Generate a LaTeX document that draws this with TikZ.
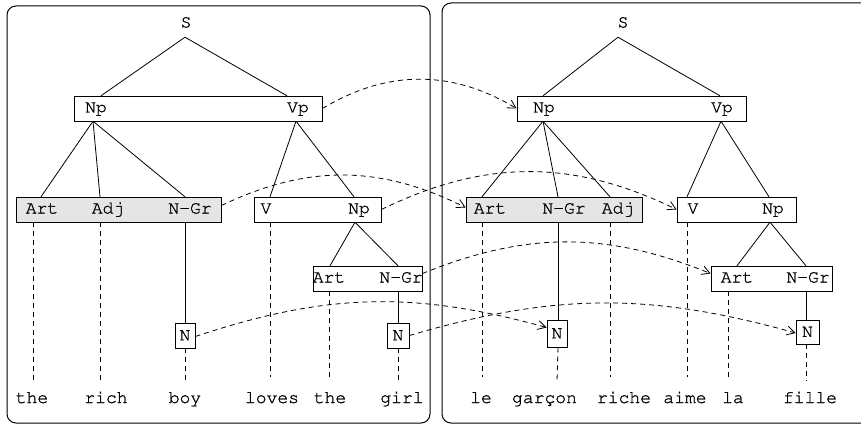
\documentclass[tikz,border=0pt]{standalone}
\usepackage[T1]{fontenc}
\usepackage{courier}
\usetikzlibrary{arrows.meta}
\newcommand{\heavytext}{\special{pdf:literal direct 2 Tr 0.2 w}}
\begin{document}
\begin{tikzpicture}[x=1pt,y=-1pt,
  every node/.style={font=\heavytext\ttfamily\fontsize{18}{20}\selectfont},
  lab/.style={inner sep=0pt, text height=12pt, text depth=4pt, minimum height=25pt},
  box/.style={draw, line width=0.9pt, minimum height=25pt, inner sep=0pt},
  gbox/.style={box, fill=black!10},
  word/.style={inner sep=0pt, text height=12pt, text depth=4pt, anchor=base},
  tl/.style={line width=0.8pt},
  dl/.style={line width=0.8pt, dash pattern=on 5pt off 4pt},
  arr/.style={dl, -{Straight Barb[length=8pt,width=9pt]}},
  frame/.style={line width=1pt, rounded corners=9pt},
]
\useasboundingbox (0,0) rectangle (861,425);
\begin{scope}
\clip (0,0) rectangle (861,425);
\draw[frame] (7,6) rectangle (430,423);
\draw[frame] (442,3) rectangle (900,423);
\end{scope}

% ---------- left tree ----------
\node[box, minimum width=248pt] (lB1) at (198,108.5) {};
\node[gbox, minimum width=205pt] (lB2) at (118.5,209.5) {};
\node[box, minimum width=127pt] (lB3) at (317.5,209.5) {};
\node[box, minimum width=109pt] (lB4) at (367.5,278.5) {};
\node[box, minimum width=20pt] (lN1) at (185,335.5) {N};
\node[box, minimum width=22pt] (lN2) at (398,335.5) {N};

\node[lab, minimum height=27pt] (lS) at (186,23.5) {S};
\node[lab] (lNp) at (96,108.5) {Np};
\node[lab] (lVp) at (298,108.5) {Vp};
\node[lab] (lArt) at (42,209.5) {Art};
\node[lab] (lAdj) at (108,209.5) {Adj};
\node[lab] (lNGr) at (190,209.5) {N-Gr};
\node[lab] (lV) at (266,209.5) {V};
\node[lab] (lNp2) at (359,209.5) {Np};
\node[lab] (lArt3) at (329,278.5) {Art};
\node[lab] (lNGr3) at (401,278.5) {N-Gr};

\node[word] (wThe) at (32,403) {the};
\node[word] (wRich) at (106,403) {rich};
\node[word] (wBoy) at (185,403) {boy};
\node[word] (wLoves) at (272,403) {loves};
\node[word] (wThe2) at (330,403) {the};
\node[word] (wGirl) at (402,403) {girl};

\draw[tl] ([xshift=-1pt]lS.south) -- ([xshift=5pt]lNp.north);
\draw[tl] ([xshift=-1pt]lS.south) -- ([xshift=-11pt]lVp.north);
\draw[tl] ([xshift=-3pt]lNp.south) -- ([xshift=-1pt]lArt.north);
\draw[tl] ([xshift=-3pt]lNp.south) -- ([xshift=-8pt]lAdj.north);
\draw[tl] ([xshift=-3pt]lNp.south) -- ([xshift=-5pt]lNGr.north);
\draw[tl] ([xshift=-2pt]lVp.south) -- ([xshift=4pt]lV.north);
\draw[tl] ([xshift=-2pt]lVp.south) -- ([xshift=-5pt]lNp2.north);
\draw[tl] ([xshift=-4pt]lNp2.south) -- ([xshift=1pt]lArt3.north);
\draw[tl] ([xshift=-4pt]lNp2.south) -- ([xshift=-3pt]lNGr3.north);
\draw[tl] ([xshift=-5pt]lNGr.south) -- (lN1.north);
\draw[tl] ([xshift=-3pt]lNGr3.south) -- (lN2.north);

\draw[dl] ([xshift=-9pt]lArt.south) -- ([xshift=1pt,yshift=10pt]wThe.north);
\draw[dl] ([xshift=-8pt]lAdj.south) -- ([xshift=-6pt,yshift=10pt]wRich.north);
\draw[dl] (lN1.south) -- ([yshift=10pt]wBoy.north);
\draw[dl] ([xshift=4pt]lV.south) -- ([xshift=-2pt,yshift=14pt]wLoves.north);
\draw[dl] (lArt3.south) -- ([xshift=-1pt,yshift=10pt]wThe2.north);
\draw[dl] (lN2.south) -- ([xshift=-4pt,yshift=10pt]wGirl.north);

% ---------- right tree ----------
\node[box, minimum width=229pt] (rB1) at (631.5,108.5) {};
\node[gbox, minimum width=176pt] (rB2) at (554,209.5) {};
\node[box, minimum width=119pt] (rB3) at (736.5,209.5) {};
\node[box, minimum width=121pt] (rB4) at (771.5,278.5) {};
\node[box, minimum width=20pt, minimum height=27pt] (rN1) at (557,333.5) {N};
\node[box, minimum width=23pt, minimum height=24pt] (rN2) at (807.5,332) {N};

\node[lab, minimum height=27pt] (rS) at (623,23.5) {S};
\node[lab] (rNp) at (544,108.5) {Np};
\node[lab] (rVp) at (722,108.5) {Vp};
\node[lab] (rArt) at (490,209.5) {Art};
\node[lab] (rNGr) at (564,209.5) {N-Gr};
\node[lab] (rAdj) at (618,209.5) {Adj};
\node[lab] (rV) at (693,209.5) {V};
\node[lab] (rNp2) at (773,209.5) {Np};
\node[lab] (rArt3) at (737,278.5) {Art};
\node[lab] (rNGr3) at (808,278.5) {N-Gr};

\node[word] (wLe) at (481,403) {le};
\node[word] (wGarcon) at (544.5,403) {garçon};
\node[word] (wRiche) at (624,403) {riche};
\node[word] (wAime) at (685,403) {aime};
\node[word] (wLa) at (733,403) {la};
\node[word] (wFille) at (810,403) {fille};

\draw[tl] ([xshift=-5pt]rS.south) -- ([xshift=-1pt]rNp.north);
\draw[tl] ([xshift=-5pt]rS.south) -- ([xshift=-2pt]rVp.north);
\draw[tl] ([xshift=-1pt]rNp.south) -- ([xshift=-8pt]rArt.north);
\draw[tl] ([xshift=-1pt]rNp.south) -- ([xshift=-6pt]rNGr.north);
\draw[tl] ([xshift=-1pt]rNp.south) -- ([xshift=-8pt]rAdj.north);
\draw[tl] ([xshift=-1pt]rVp.south) -- ([xshift=-6pt]rV.north);
\draw[tl] ([xshift=-1pt]rVp.south) -- ([xshift=-4pt]rNp2.north);
\draw[tl] ([xshift=-3pt]rNp2.south) -- (rArt3.north);
\draw[tl] ([xshift=-3pt]rNp2.south) -- ([xshift=-2pt]rNGr3.north);
\draw[tl] ([xshift=-6pt]rNGr.south) -- ([xshift=1pt]rN1.north);
\draw[tl] ([xshift=-2pt]rNGr3.south) -- ([xshift=-1.5pt]rN2.north);

\draw[dl] ([xshift=-8pt]rArt.south) -- ([xshift=1pt,yshift=14pt]wLe.north);
\draw[dl] ([xshift=1pt]rN1.south) -- ([xshift=12.5pt,yshift=10pt]wGarcon.north);
\draw[dl] ([xshift=-8pt]rAdj.south) -- ([xshift=-14pt,yshift=14pt]wRiche.north);
\draw[dl] ([xshift=-6pt]rV.south) -- ([xshift=2pt,yshift=14pt]wAime.north);
\draw[dl] ([xshift=-9pt]rArt3.south) -- ([xshift=-5pt,yshift=14pt]wLa.north);
\draw[dl] ([xshift=-1.5pt]rN2.south) -- ([xshift=-4pt,yshift=10pt]wFille.north);

% ---------- correspondence arrows ----------
\draw[arr] (lB1.east) to[bend left=31] (rB1.west);
\draw[arr] ([yshift=4pt]lB2.east) to[bend left=26] ([yshift=2pt]rB2.west);
\draw[arr] (lB3.east) to[bend left=26] (rB3.west);
\draw[arr] ([yshift=5pt]lB4.east) to[bend left=22] ([yshift=5pt]rB4.west);
\draw[arr] ([yshift=-1pt]lN1.east) to[bend left=17] ([yshift=6pt]rN1.west);
\draw[arr] (lN2.east) to[bend left=16] ([yshift=-1pt]rN2.west);
\end{tikzpicture}
\end{document}
